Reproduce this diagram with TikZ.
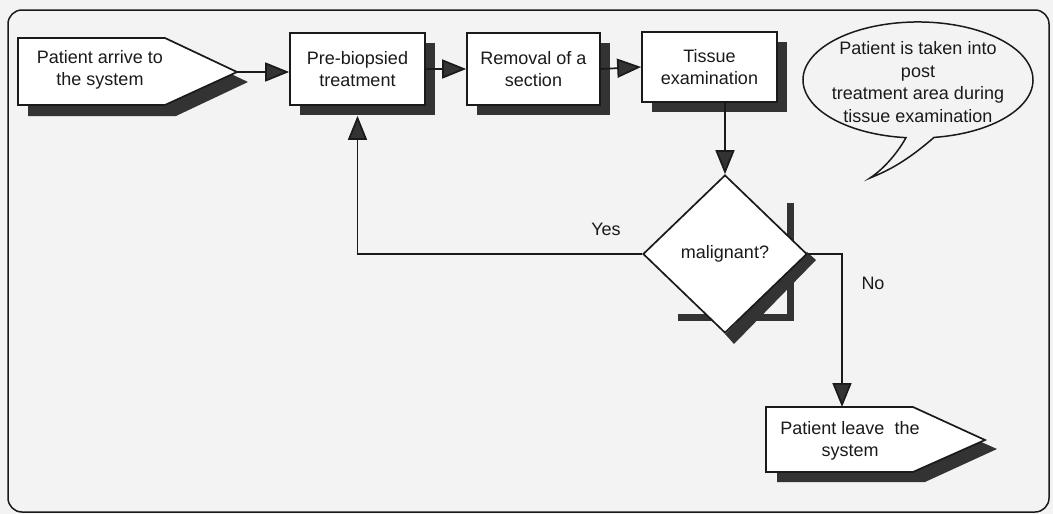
\documentclass[tikz,border=0pt]{standalone}
\usepackage{fontspec}
\setmainfont{Liberation Sans}
\usetikzlibrary{arrows.meta,shapes.geometric,shadows}
\definecolor{bg}{HTML}{F3F3F3}
\definecolor{shd}{HTML}{333333}
\definecolor{ink}{HTML}{1A1A1A}
\begin{document}
\begin{tikzpicture}[x=1pt,y=-1pt,
  txt/.style={font=\fontsize{18}{22.5}\selectfont, align=center, text=ink},
  box/.style={txt, draw=ink, line width=1.7pt, fill=white, inner sep=0pt,
    general shadow={fill=shd, shadow xshift=10pt, shadow yshift=-10pt}},
  outline/.style={draw=ink, line width=1.7pt, fill=white},
  shadowfill/.style={fill=shd},
  conn/.style={draw=ink, line width=1.7pt},
  arr/.style={conn, -{Triangle[length=24pt,width=19pt,fill=shd]}}
]
\useasboundingbox (0,0) rectangle (1053,514);
\fill[bg] (0,0) rectangle (1053,514);
\draw[ink, line width=1.5pt, rounded corners=14pt] (8,10) rectangle (1049,512);

% start pentagon
\fill[shadowfill] (28,48) -- (176,48) -- (248,82) -- (176,116) -- (28,116) -- cycle;
\draw[outline] (18,38) -- (165,38) -- (237,72) -- (165,105) -- (18,105) -- cycle;
\node[txt] (start) at (100,70) {Patient arrive to\\the system};
\coordinate (starttip) at (237,72);

% boxes
\node[box, minimum width=135pt, minimum height=72pt] (pre) at (357.5,69) {Pre-biopsied\\treatment};
\node[box, minimum width=133pt, minimum height=72pt] (rem) at (533.5,69) {Removal of a\\section};
\node[box, minimum width=135pt, minimum height=70pt] (tis) at (709.5,67) {Tissue\\examination};

% diamond shadow
\fill[shadowfill] (787,203) rectangle (794,321);
\fill[shadowfill] (678,314) rectangle (794,321);
\fill[shadowfill] (807,252) -- (816,260) -- (734,344) -- (725,334) -- cycle;
\node[txt, shape=diamond, draw=ink, line width=1.7pt, fill=white,
  minimum width=164pt, minimum height=158pt, inner sep=0pt] (dia) at (725,254) {malignant?};

% end pentagon
\fill[shadowfill] (777,417) -- (925,417) -- (997,449) -- (925,482) -- (777,482) -- cycle;
\draw[outline] (766,407) -- (913,407) -- (985,440) -- (913,472) -- (766,472) -- cycle;
\node[txt] (endn) at (850,441) {Patient leave~ the\\system};
\coordinate (endtop) at (842,407);

% speech bubble
\draw[ink, line width=1.5pt, fill=bg] (934,137.4) arc[start angle=82, end angle=-264, x radius=115, y radius=58]
  .. controls (898,152) and (885,168) .. (870,178)
  .. controls (890,170) and (908,160) .. (934,137.4) -- cycle;
\node[txt] (bub) at (918,82) {Patient is taken into\\post\\treatment area during\\tissue examination};

% connectors
\draw[arr] (starttip) -- (starttip -| pre.west);
\draw[arr] (pre.east) -- (rem.west);
\draw[arr] (rem.east) -- (tis.west);
\draw[arr] (tis.south -| dia.north) -- (dia.north);
\draw[arr] (dia.west) -| ([yshift=-10pt]pre.south);
\draw[arr] (dia.east) -| (endtop);

% labels
\node[txt] (yes) at (606,229) {Yes};
\node[txt] (no) at (873,283) {No};
\end{tikzpicture}
\end{document}
